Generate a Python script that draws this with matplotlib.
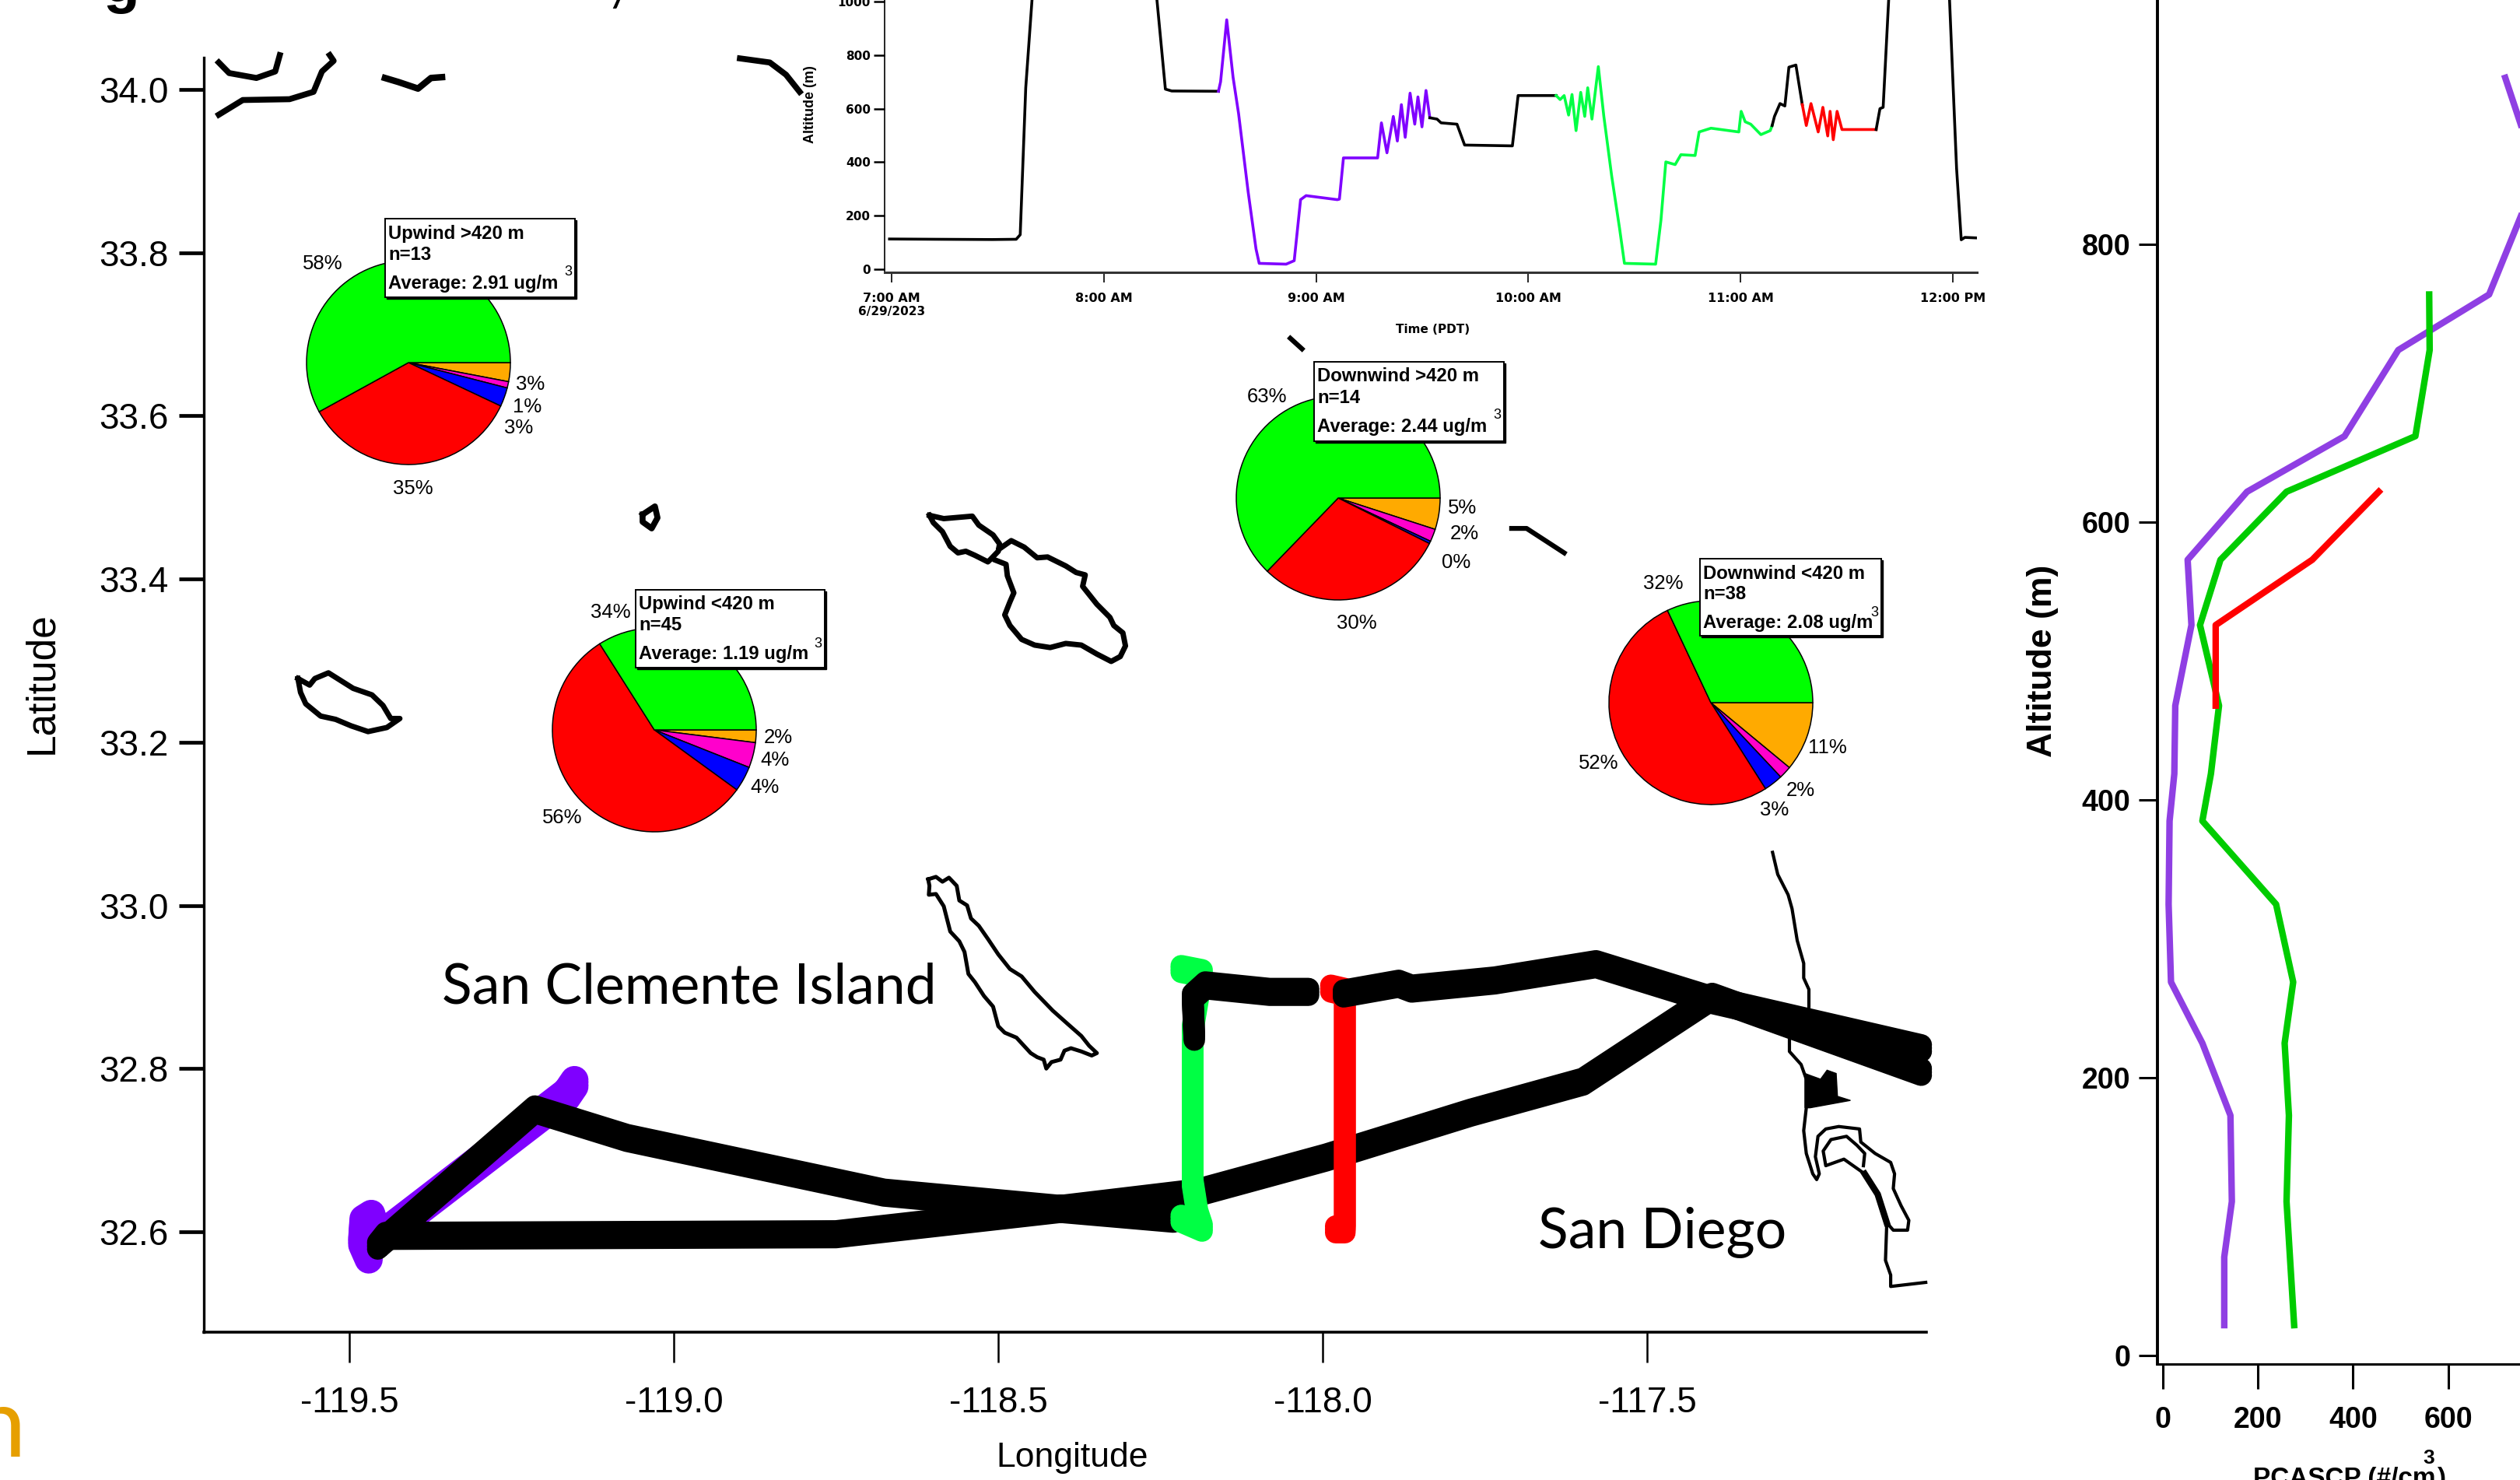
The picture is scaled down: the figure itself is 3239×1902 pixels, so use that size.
import matplotlib
matplotlib.use("Agg")
import matplotlib.pyplot as plt
import numpy as np
from matplotlib.patches import Rectangle

W, H = 3239, 1902
plt.rcParams['font.family'] = ['Liberation Sans', 'DejaVu Sans']

# map: coast and island outlines, lon / lat
catalina_w_lon = [-118.606,-118.584,-118.540,-118.530,-118.508,-118.498,-118.500,-118.512,-118.516,-118.536,-118.550,-118.562,-118.574,-118.586,-118.600,-118.606]
catalina_w_lat = [33.478,33.474,33.477,33.466,33.454,33.443,33.434,33.424,33.421,33.429,33.434,33.432,33.440,33.458,33.469,33.478]
catalina_lon = [-118.498,-118.480,-118.460,-118.440,-118.424,-118.396,-118.380,-118.366,-118.370,-118.348,-118.328,-118.322,-118.308,-118.304,-118.312,-118.326,-118.348,-118.372,-118.396,-118.420,-118.444,-118.464,-118.482,-118.490,-118.482,-118.476,-118.486,-118.488,-118.504]
catalina_lat = [33.437,33.447,33.439,33.426,33.427,33.416,33.408,33.405,33.391,33.369,33.353,33.343,33.334,33.318,33.305,33.299,33.308,33.319,33.321,33.316,33.319,33.326,33.343,33.356,33.372,33.383,33.404,33.418,33.423]
clemente_lon = [-118.608,-118.596,-118.586,-118.576,-118.564,-118.560,-118.548,-118.542,-118.530,-118.516,-118.500,-118.482,-118.464,-118.444,-118.416,-118.392,-118.372,-118.360,-118.348,-118.356,-118.372,-118.388,-118.398,-118.404,-118.418,-118.426,-118.430,-118.440,-118.450,-118.472,-118.490,-118.500,-118.508,-118.522,-118.536,-118.546,-118.552,-118.560,-118.574,-118.584,-118.596,-118.607,-118.606,-118.608]
clemente_lat = [33.032,33.035,33.029,33.034,33.024,33.006,33.000,32.984,32.975,32.959,32.940,32.922,32.913,32.894,32.871,32.854,32.840,32.828,32.819,32.816,32.821,32.825,32.822,32.811,32.808,32.800,32.811,32.814,32.819,32.838,32.844,32.852,32.876,32.889,32.906,32.916,32.943,32.956,32.968,32.999,33.014,33.013,33.024,33.032]
nicolas_lon = [-119.579,-119.561,-119.553,-119.532,-119.512,-119.494,-119.465,-119.448,-119.436,-119.422,-119.442,-119.471,-119.497,-119.521,-119.544,-119.567,-119.575,-119.579]
nicolas_lat = [33.278,33.270,33.278,33.285,33.275,33.266,33.258,33.245,33.229,33.229,33.218,33.213,33.220,33.228,33.232,33.247,33.261,33.278]
top_a_lon = [-119.701,-119.685,-119.643,-119.614,-119.607]
top_a_lat = [34.033,34.020,34.014,34.022,34.042]
top_b_lon = [-119.701,-119.664,-119.592,-119.555,-119.542,-119.524,-119.530]
top_b_lat = [33.969,33.987,33.988,33.997,34.022,34.035,34.042]
top_c_lon = [-119.445,-119.424,-119.394,-119.374,-119.357]
top_c_lat = [34.014,34.009,34.001,34.014,34.015]
top_d_lon = [-118.898,-118.852,-118.827,-118.806]
top_d_lat = [34.038,34.033,34.018,33.997]
stub_e_lon = [-118.050,-118.032]
stub_e_lat = [33.695,33.682]
stub_f_lon = [-117.709,-117.686,-117.657,-117.628]
stub_f_lat = [33.462,33.462,33.447,33.432]
small_lon = [-119.048,-119.029,-119.025,-119.034,-119.048,-119.048]
small_lat = [33.479,33.489,33.475,33.462,33.470,33.479]
sd_lon = [-117.307,-117.299,-117.283,-117.277,-117.269,-117.259,-117.259,-117.251,-117.251,-117.281,-117.281,-117.263,-117.255,-117.255,-117.259,-117.255,-117.245,-117.239,-117.235,-117.241,-117.237,-117.225,-117.205,-117.173,-117.171,-117.149,-117.125,-117.119,-117.121,-117.109,-117.097,-117.099,-117.121,-117.131]
sd_lat = [33.065,33.038,33.013,32.996,32.957,32.929,32.911,32.897,32.858,32.837,32.821,32.805,32.787,32.752,32.724,32.696,32.671,32.664,32.671,32.692,32.717,32.726,32.729,32.726,32.710,32.696,32.685,32.671,32.653,32.632,32.614,32.602,32.602,32.611]
bay_lon = [-117.131,-117.145,-117.165,-117.181,-117.197,-117.225,-117.229,-117.217,-117.193,-117.177,-117.165,-117.167]
bay_lat = [32.611,32.646,32.671,32.680,32.689,32.681,32.699,32.713,32.717,32.706,32.696,32.681]
south_lon = [-117.131,-117.133,-117.125,-117.125,-117.071]
south_lat = [32.611,32.565,32.547,32.533,32.538]
blob_lon = [-117.257,-117.247,-117.233,-117.223,-117.209,-117.207,-117.187,-117.249,-117.257]
blob_lat = [32.794,32.791,32.787,32.798,32.794,32.766,32.761,32.752,32.752]

# flight track
black_lower_lon = [-117.078,-117.400,-117.599,-117.772,-117.995,-118.193,-118.404,-118.750,-119.444,-119.456,-119.214,-119.072,-118.676,-118.404,-118.230]
black_lower_lat = [32.796,32.888,32.784,32.746,32.691,32.648,32.628,32.597,32.595,32.583,32.750,32.715,32.648,32.628,32.616]
black_west_lon = [-118.198,-118.2005,-118.181,-118.082,-118.022]
black_west_lat = [32.839,32.888,32.902,32.894,32.894]
black_east_lon = [-117.968,-117.883,-117.863,-117.735,-117.579,-117.400,-117.078]
black_east_lat = [32.892,32.904,32.898,32.908,32.928,32.884,32.825]
purple_lon = [-119.470,-119.480,-119.478,-119.466,-119.456,-119.165,-119.153]
purple_lat = [32.570,32.588,32.612,32.618,32.590,32.768,32.782]
green_lon = [-118.218,-118.186,-118.2005,-118.2005,-118.193,-118.186,-118.218]
green_lat = [32.922,32.917,32.849,32.660,32.622,32.605,32.616]
red_lon = [-117.9875,-117.966,-117.966,-117.966,-117.980]
red_lat = [32.898,32.894,32.622,32.603,32.603]

# pies: orange, magenta, blue, red, green
pie_colors = ['#ffaa00', '#ff00cc', '#0000ff', '#ff0000', '#00ff00']
pie_upwind_high = [3, 1, 3, 35, 58]
pie_upwind_low = [2, 4, 4, 56, 34]
pie_downwind_high = [5, 2, 0.4, 30, 63]
pie_downwind_low = [11, 2, 3, 52, 32]

# altitude vs time, hours PDT
alt_black_a_t = [6.99,7.21,7.475,7.587,7.606,7.632,7.67,8.24,8.25,8.29,8.32,8.54]
alt_black_a = [113,112,111,112,129,678,1100,1100,1008,673,666,665]
alt_purple_t = [8.54,8.55,8.579,8.609,8.635,8.68,8.717,8.732,8.859,8.897,8.927,8.953,9.10,9.11,9.129,9.29,9.308,9.334,9.364,9.383,9.402,9.42,9.443,9.465,9.48,9.499,9.518,9.536]
alt_purple = [665,700,932,717,581,289,76,22,19,32,260,275,260,262,416,416,547,435,571,479,615,493,658,542,644,532,668,566]
alt_black_b_t = [9.536,9.57,9.589,9.664,9.682,9.70,9.925,9.952,10.131]
alt_black_b = [566,561,547,542,503,464,461,649,649]
alt_green_t = [10.131,10.15,10.169,10.19,10.206,10.225,10.247,10.266,10.28,10.30,10.33,10.356,10.393,10.43,10.453,10.60,10.625,10.648,10.692,10.719,10.786,10.805,10.861,10.992,11.003,11.022,11.048,11.096,11.14,11.149]
alt_green = [649,634,649,576,653,518,661,571,678,561,757,571,348,153,22,19,183,401,391,428,425,513,527,513,590,551,542,503,518,537]
alt_black_c_t = [11.149,11.16,11.186,11.209,11.228,11.261,11.291]
alt_black_c = [537,571,619,610,755,763,615]
alt_red_t = [11.291,11.31,11.332,11.366,11.388,11.411,11.422,11.437,11.455,11.478,11.639]
alt_red = [615,537,619,513,605,498,590,484,590,522,522]
alt_black_d_t = [11.639,11.657,11.672,11.70,11.72,11.98,12.0,12.018,12.04,12.057,12.114]
alt_black_d = [522,600,605,1037,1100,1100,717,377,110,119,117]
time_ticks = [7, 8, 9, 10, 11, 12]
time_labels = ['7:00 AM', '8:00 AM', '9:00 AM', '10:00 AM', '11:00 AM', '12:00 PM']

# PCASP profiles
prof_purple_x = [129,129,145,142,83,17,12,14,24,26,60,52,177,382,495,686,788,720]
prof_purple_y = [22,71,111,173,225,269,325,385,419,468,526,573,622,662,724,764,850,920]
prof_green_x = [276,267,260,265,256,274,238,83,101,118,78,121,260,531,561,560]
prof_green_y = [22,72,111,173,225,269,325,385,419,468,526,573,622,662,724,764]
prof_red_x = [111,111,314,454]
prof_red_y = [468,526,573,622]


def axes_px(left, top, right, bottom, **kw):
    return fig.add_axes([left/W, 1-bottom/H, (right-left)/W, (bottom-top)/H], **kw)


fig = plt.figure(figsize=(W/100, H/100), dpi=100, facecolor='white')

# main map
ax = axes_px(262, 74, 2476, 1712, zorder=1)
ax.set_xlim(-119.724, -117.07)
ax.set_ylim(32.477, 34.039)
for s in ['top', 'right']:
    ax.spines[s].set_visible(False)
ax.spines['left'].set_linewidth(2.4)
ax.spines['bottom'].set_linewidth(2.6)
ax.set_xticks([-119.5, -119, -118.5, -118, -117.5])
ax.set_xticklabels(['-119.5', '-119.0', '-118.5', '-118.0', '-117.5'])
ax.set_yticks([32.6, 32.8, 33.0, 33.2, 33.4, 33.6, 33.8, 34.0])
ax.set_yticklabels(['32.6', '32.8', '33.0', '33.2', '33.4', '33.6', '33.8', '34.0'])
ax.tick_params(axis='x', length=28, width=1.8, labelsize=33, pad=22)
ax.tick_params(axis='y', length=23, width=3.4, labelsize=33, pad=10)

outlines = [
    (catalina_w_lon, catalina_w_lat, 5), (catalina_lon, catalina_lat, 5),
    (clemente_lon, clemente_lat, 3.6), (nicolas_lon, nicolas_lat, 5),
    (top_a_lon, top_a_lat, 5.5), (top_b_lon, top_b_lat, 5.5), (top_c_lon, top_c_lat, 6),
    (top_d_lon, top_d_lat, 5.5), (stub_e_lon, stub_e_lat, 4.5), (stub_f_lon, stub_f_lat, 4.5),
    (small_lon, small_lat, 5.5),
    (sd_lon, sd_lat, 3), (bay_lon, bay_lat, 3), (south_lon, south_lat, 3),
    (bay_lon[:3], bay_lat[:3], 6),
]
for lon, lat, lw in outlines:
    ax.plot(lon, lat, color='black', lw=lw, clip_on=False, solid_joinstyle='round', zorder=2)
ax.fill(blob_lon, blob_lat, color='black', lw=1, zorder=2)


def track(lon, lat, color, z, lw=20):
    # picture is stretched vertically, so thicken the stroke that way
    for dy in (-0.004, 0, 0.004):
        ax.plot(lon, np.array(lat)+dy, color=color, lw=lw, clip_on=False,
                solid_capstyle='round', solid_joinstyle='round', zorder=z)


track(purple_lon, purple_lat, '#7f00ff', 3, lw=26)
track(black_lower_lon, black_lower_lat, 'black', 4)
track(green_lon, green_lat, '#00ff44', 5)
track(red_lon, red_lat, '#ff0000', 5)
track(black_east_lon, black_east_lat, 'black', 6)
track(black_west_lon, black_west_lat, 'black', 6)

# pies
pie_spots = [(525, 466, pie_upwind_high), (841, 938, pie_upwind_low),
             (1720, 640, pie_downwind_high), (2199, 903, pie_downwind_low)]
for cx, cy, vals in pie_spots:
    r = 134
    pa = axes_px(cx-r, cy-r, cx+r, cy+r, zorder=2)
    pa.pie(vals, colors=pie_colors, startangle=0, counterclock=False, radius=131/r,
           wedgeprops={'edgecolor': 'black', 'linewidth': 1.1})
    pa.set_xlim(-1, 1)
    pa.set_ylim(-1, 1)

# altitude inset
ia = axes_px(1137, 0, 2541, 350, zorder=3)
ia.set_xlim(6.967, 12.114)
ia.set_ylim(-11.6, 1006)
ia.spines['top'].set_visible(False)
ia.spines['right'].set_visible(False)
ia.spines['left'].set_linewidth(1.2)
ia.spines['bottom'].set_linewidth(2.2)
ia.spines['bottom'].set_color('#333333')
for t, a, c in [(alt_black_a_t, alt_black_a, 'black'), (alt_purple_t, alt_purple, '#7f00ff'),
                (alt_black_b_t, alt_black_b, 'black'), (alt_green_t, alt_green, '#00ff44'),
                (alt_black_c_t, alt_black_c, 'black'), (alt_red_t, alt_red, '#ff0000'),
                (alt_black_d_t, alt_black_d, 'black')]:
    ia.plot(t, a, color=c, lw=2.6)
ia.set_xticks(time_ticks)
ia.set_xticklabels(time_labels, family='DejaVu Sans', weight='bold')
ia.set_yticks([0, 200, 400, 600, 800, 1000])
ia.set_yticklabels(['0', '200', '400', '600', '800', '1000'], family='DejaVu Sans', weight='bold')
ia.tick_params(axis='x', length=9, width=1.2, labelsize=11.5, pad=10)
ia.tick_params(axis='y', length=10, width=1.8, labelsize=11, pad=3)

# PCASP profile panel
pr = axes_px(2773, 0, W, 1753, zorder=3)
pr.set_xlim(-11.5, 751)
pr.set_ylim(-6, 976)
pr.spines['top'].set_visible(False)
pr.spines['right'].set_visible(False)
pr.spines['left'].set_linewidth(2.8)
pr.spines['bottom'].set_linewidth(2.2)
pr.plot(prof_purple_x, prof_purple_y, color='#8f3fe3', lw=6)
pr.plot(prof_green_x, prof_green_y, color='#00cc00', lw=6)
pr.plot(prof_red_x, prof_red_y, color='#ff0000', lw=6)
pr.set_xticks([0, 200, 400, 600])
pr.set_xticklabels(['0', '200', '400', '600'], weight='bold')
pr.set_yticks([0, 200, 400, 600, 800])
pr.set_yticklabels(['0', '200', '400', '600', '800'], weight='bold')
pr.tick_params(axis='x', length=23, width=2.2, labelsize=27, pad=16)
pr.tick_params(axis='y', length=17, width=2.2, labelsize=27, pad=8)

# overlay in picture pixels for boxes and free text
ov = fig.add_axes([0, 0, 1, 1], zorder=10)
ov.set_xlim(0, W)
ov.set_ylim(H, 0)
ov.axis('off')
ov.patch.set_alpha(0)

pie_labels = [
    ('58%', 415, 339), ('3%', 682, 494), ('1%', 678, 523), ('3%', 667, 550), ('35%', 531, 628),
    ('34%', 785, 787), ('2%', 1000, 948), ('4%', 996, 977), ('4%', 983, 1012), ('56%', 723, 1051),
    ('63%', 1628, 510), ('5%', 1880, 653), ('2%', 1882, 686), ('0%', 1872, 723), ('30%', 1744, 801),
    ('32%', 2138, 750), ('11%', 2349, 961), ('2%', 2314, 1016), ('3%', 2281, 1041), ('52%', 2055, 981),
]
for s, x, y in pie_labels:
    ov.text(x, y, s, fontsize=18.5, ha='center', va='center')

boxes = [
    (495, 281, 739, 382, 'Upwind >420 m', 'n=13', 'Average: 2.91 ug/m'),
    (817, 758, 1060, 858, 'Upwind <420 m', 'n=45', 'Average: 1.19 ug/m'),
    (1689, 465, 1933, 567, 'Downwind >420 m', 'n=14', 'Average: 2.44 ug/m'),
    (2185, 718, 2418, 817, 'Downwind <420 m', 'n=38', 'Average: 2.08 ug/m'),
]
for x0, y0, x1, y1, a, b, c in boxes:
    ov.add_patch(Rectangle((x0+2, y0+2), x1-x0, y1-y0, fc='black', ec='black', lw=1))
    ov.add_patch(Rectangle((x0, y0), x1-x0, y1-y0, fc='white', ec='black', lw=1.4))
    ov.text(x0+4, y0+19, a, fontsize=17.2, weight='bold', va='center')
    ov.text(x0+4, y0+46, b, fontsize=17.2, weight='bold', va='center')
    ov.text(x0+4, y0+83, c, fontsize=17.2, weight='bold', va='center')
    ov.text(x1-9, y0+69, '3', fontsize=13, ha='center', va='center')

ov.text(1204, 1289, 'San Clemente Island', fontsize=51.5, family='Lato', ha='right', va='baseline')
ov.text(2296, 1604, 'San Diego', fontsize=51.5, family='Lato', ha='right', va='baseline')
ov.text(54, 878, 'Latitude', fontsize=37, rotation=90, ha='center', va='center')
ov.text(1378, 1873, 'Longitude', fontsize=32, ha='center', va='center')

ov.text(1146, 401, '6/29/2023', fontsize=11, weight='bold', family='DejaVu Sans', ha='center', va='center')
ov.text(1842, 424, 'Time (PDT)', fontsize=11, weight='bold', family='DejaVu Sans', ha='center', va='center')
ov.text(1041, 134, 'Altitude (m)', fontsize=13, weight='bold', rotation=90, ha='center', va='center')

ov.text(2625, 849, 'Altitude (m)', fontsize=32, weight='bold', rotation=90, ha='center', va='center')
ov.text(2896, 1885, 'PCASCP (#/cm', fontsize=24, weight='bold', ha='left', va='top')
ov.text(3122, 1874, '3', fontsize=19, weight='bold', ha='center', va='center')
ov.text(3132, 1885, ')', fontsize=24, weight='bold', ha='left', va='top')

# cut-off panel title and neighbouring panel text at the picture edges
ov.text(133, 2, 'g', fontsize=55, weight='bold', ha='left', va='baseline')
ov.text(780, 2, 'y', fontsize=38, ha='left', va='baseline', family='Lato')
ov.text(33, 1872, 'n', fontsize=90, color='#e69f00', family='Lato', ha='right', va='baseline')

fig.savefig('out.png', dpi=100)
